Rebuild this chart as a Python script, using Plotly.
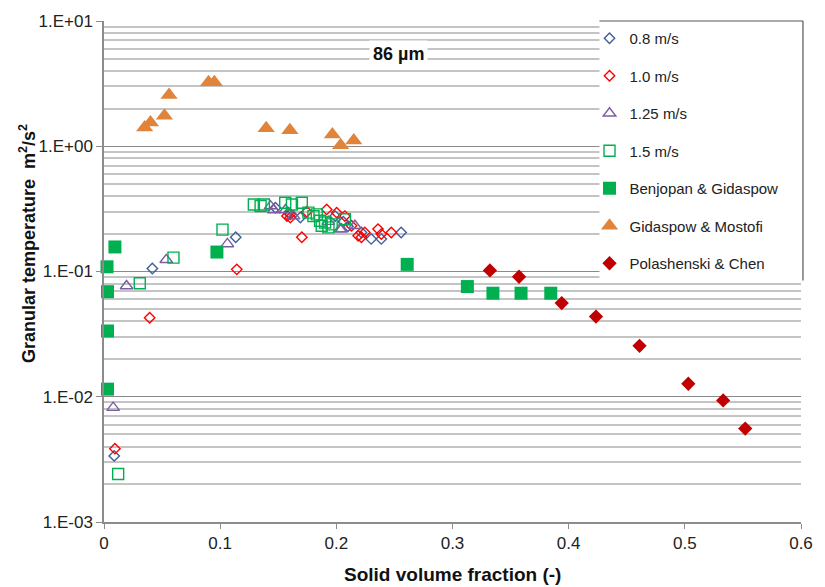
import plotly.graph_objects as go

# ---------------- data ----------------
x_08 = [0.0088, 0.0416, 0.1134, 0.1476, 0.159, 0.169, 0.199, 0.206, 0.210, 0.2216, 0.230, 0.2387, 0.2558]
y_08 = [0.00337, 0.1056, 0.1876, 0.323, 0.295, 0.270, 0.277, 0.25, 0.230, 0.205, 0.182, 0.182, 0.205]

x_10 = [0.0094, 0.0393, 0.1143, 0.1575, 0.1604, 0.1604, 0.1746, 0.1703, 0.1917, 0.2003, 0.2074, 0.2131,
        0.2188, 0.2245, 0.2216, 0.2359, 0.2387, 0.2473]
y_10 = [0.00385, 0.0427, 0.104, 0.277, 0.270, 0.286, 0.30, 0.1876, 0.313, 0.295, 0.277, 0.232,
        0.193, 0.205, 0.1876, 0.218, 0.199, 0.205]

x_125 = [0.0079, 0.0194, 0.0536, 0.1062, 0.1433, 0.1462, 0.1562, 0.1632, 0.193, 0.2032, 0.2045, 0.216]
y_125 = [0.00819, 0.0766, 0.124, 0.166, 0.333, 0.31, 0.31, 0.277, 0.25, 0.218, 0.218, 0.232]

x_15 = [0.0122, 0.0308, 0.0598, 0.102, 0.129, 0.1348, 0.1376, 0.156, 0.1618, 0.1703, 0.176, 0.1803,
        0.1832, 0.186, 0.1874, 0.1932, 0.1903, 0.196, 0.2074]
y_15 = [0.00242, 0.0805, 0.129, 0.216, 0.343, 0.333, 0.343, 0.354, 0.343, 0.354, 0.295, 0.277,
        0.286, 0.254, 0.232, 0.225, 0.246, 0.238, 0.261]

x_bg = [0.0026, 0.0094, 0.003, 0.003, 0.003, 0.0972, 0.261, 0.3128, 0.3348, 0.359, 0.3846]
y_bg = [0.109, 0.157, 0.069, 0.0335, 0.0115, 0.143, 0.114, 0.0758, 0.0671, 0.0671, 0.0671]

x_gm = [0.035, 0.040, 0.052, 0.056, 0.090, 0.095, 0.1396, 0.160, 0.1966, 0.2037, 0.215]
y_gm = [1.41, 1.55, 1.75, 2.57, 3.25, 3.25, 1.39, 1.34, 1.24, 1.02, 1.11]

x_pc = [0.3322, 0.3573, 0.394, 0.4235, 0.461, 0.503, 0.533, 0.552]
y_pc = [0.102, 0.0908, 0.056, 0.0437, 0.0255, 0.0127, 0.00935, 0.00557]

x_ticks = [0, 0.1, 0.2, 0.3, 0.4, 0.5, 0.6]
x_ticktext = ["0", "0.1", "0.2", "0.3", "0.4", "0.5", "0.6"]
y_ticks = [1e-3, 1e-2, 1e-1, 1e0, 1e1]
y_ticktext = ["1.E-03", "1.E-02", "1.E-01", "1.E+00", "1.E+01"]
y_minor = [m * 10.0 ** e for e in range(-3, 1) for m in range(2, 10)]

FONT = "Liberation Sans, Arial, sans-serif"

series = [
    ("0.8 m/s", x_08, y_08, "diamond-open", "#3E5F9C", 8, 1.4),
    ("1.0 m/s", x_10, y_10, "diamond-open", "#FF0000", 8, 1.4),
    ("1.25 m/s", x_125, y_125, "triangle-up-open", "#7A5FA0", 11, 1.4),
    ("1.5 m/s", x_15, y_15, "square-open", "#00B050", 11, 1.4),
    ("Benjopan & Gidaspow", x_bg, y_bg, "square", "#00B050", 13, 0),
    ("Gidaspow & Mostofi", x_gm, y_gm, "triangle-up", "#E0843C", 15, 0),
    ("Polashenski & Chen", x_pc, y_pc, "diamond", "#C00000", 11, 0),
]

fig = go.Figure()
for i, (name, xs, ys, sym, col, sz, lw) in enumerate(series):
    fig.add_trace(go.Scatter(
        x=xs, y=ys, mode="markers", name=name, legendgroup=f"g{i}",
        cliponaxis=False,
        marker=dict(symbol=sym, size=sz, color=col,
                    line=dict(color=col, width=lw)),
    ))

L, R, T, B = 104, 19, 14, 65
pw, ph = 825 - L - R, 587 - T - B


def px_x(px):
    return (px - L) / pw


def px_y(py):
    return 1 - (py - T) / ph


fig.update_layout(
    width=825, height=587,
    margin=dict(l=L, r=R, t=T, b=B),
    paper_bgcolor="white", plot_bgcolor="white",
    font=dict(family=FONT, size=15, color="#222222"),
    showlegend=True,
    legend=dict(x=px_x(593), y=px_y(15), xanchor="left", yanchor="top",
                bgcolor="rgba(0,0,0,0)", borderwidth=0,
                font=dict(family=FONT, size=15, color="#222222"),
                tracegroupgap=15, itemwidth=30),
    xaxis=dict(range=[0, 0.6], tickmode="array", tickvals=x_ticks, ticktext=x_ticktext,
               showgrid=False, zeroline=False, showline=True, linecolor="#8C8C8C", linewidth=1.5,
               ticks="outside", ticklen=5, tickcolor="#8C8C8C",
               tickfont=dict(family=FONT, size=17, color="#222222")),
    yaxis=dict(type="log", range=[-3, 1], tickmode="array", tickvals=y_ticks, ticktext=y_ticktext,
               showgrid=True, gridcolor="#8A8A8A", gridwidth=1,
               zeroline=False, showline=True, linecolor="#8C8C8C", linewidth=1.5,
               ticks="outside", ticklen=6, tickcolor="#8C8C8C",
               tickfont=dict(family=FONT, size=17, color="#222222"),
               minor=dict(tickmode="array", tickvals=y_minor, showgrid=True,
                          gridcolor="#C4C4C4", gridwidth=1.6, ticks="")),
    annotations=[
        dict(text="<b>86 µm</b>", x=px_x(401), y=px_y(33), xref="paper", yref="paper",
             showarrow=False, bgcolor="white", borderpad=3,
             font=dict(family=FONT, size=18, color="#111111")),
        dict(text="<b>Granular temperature  m<sup>2</sup>/s<sup>2</sup></b>", textangle=-90,
             x=px_x(14), y=px_y(240), xref="paper", yref="paper", showarrow=False,
             font=dict(family=FONT, size=18, color="#111111")),
        dict(text="<b>Solid volume fraction (-)</b>", x=px_x(455), y=px_y(575),
             xref="paper", yref="paper", showarrow=False, yanchor="middle",
             font=dict(family=FONT, size=19, color="#111111")),
    ],
)

# white legend area (hides gridlines) and its partial frame (top and right)
fig.add_shape(type="rect", xref="paper", yref="paper", layer="above",
              x0=px_x(603), x1=px_x(807), y0=px_y(277), y1=1,
              fillcolor="white", line=dict(width=0))
fig.add_shape(type="line", xref="paper", yref="paper", x0=px_x(603), x1=px_x(808), y0=1, y1=1,
              line=dict(color="#555555", width=1.2))
fig.add_shape(type="line", xref="paper", yref="paper", x0=px_x(808), x1=px_x(808), y0=1, y1=px_y(277),
              line=dict(color="#555555", width=1.2))

fig.write_html("out.html")
